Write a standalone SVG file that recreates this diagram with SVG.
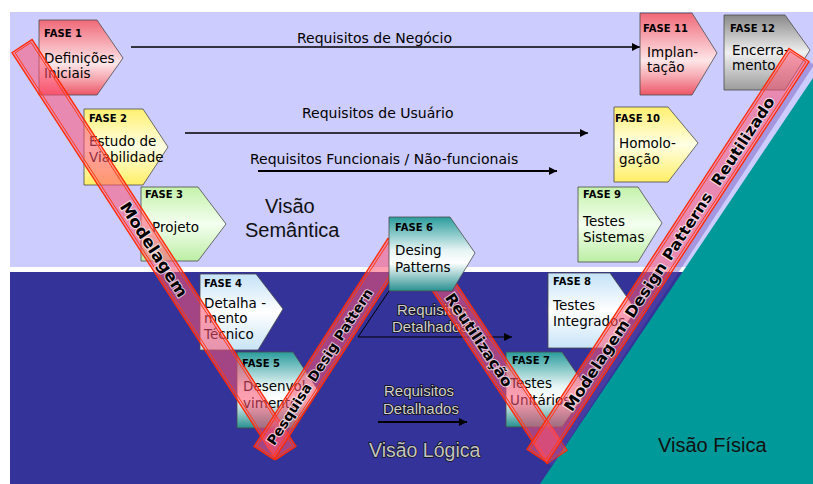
<svg xmlns="http://www.w3.org/2000/svg" width="813" height="484" viewBox="0 0 813 484">
<defs>
  <linearGradient id="gRed" x1="0" y1="0" x2="0" y2="1">
    <stop offset="0" stop-color="#f06878"/><stop offset="0.35" stop-color="#f8b4bc"/><stop offset="0.58" stop-color="#fde6e8"/><stop offset="0.78" stop-color="#f6a8b0"/><stop offset="1" stop-color="#ec5666"/>
  </linearGradient>
  <linearGradient id="gYel" x1="0" y1="0" x2="0" y2="1">
    <stop offset="0" stop-color="#fff070"/><stop offset="0.5" stop-color="#ffffe4"/><stop offset="1" stop-color="#ffee66"/>
  </linearGradient>
  <linearGradient id="gGrn" x1="0" y1="0" x2="0" y2="1">
    <stop offset="0" stop-color="#c4f2aa"/><stop offset="0.5" stop-color="#f4fff0"/><stop offset="1" stop-color="#bceea4"/>
  </linearGradient>
  <linearGradient id="gBlu" x1="0" y1="0" x2="0" y2="1">
    <stop offset="0" stop-color="#c4e2f8"/><stop offset="0.5" stop-color="#ffffff"/><stop offset="1" stop-color="#c8e4f8"/>
  </linearGradient>
  <linearGradient id="gTeal" x1="0" y1="0" x2="0" y2="1">
    <stop offset="0" stop-color="#2a9c9c"/><stop offset="0.45" stop-color="#e6f4f4"/><stop offset="0.62" stop-color="#ffffff"/><stop offset="1" stop-color="#289090"/>
  </linearGradient>
  <linearGradient id="gGray" x1="0" y1="0" x2="0" y2="1">
    <stop offset="0" stop-color="#888888"/><stop offset="0.5" stop-color="#f0f0f0"/><stop offset="1" stop-color="#9c9c9c"/>
  </linearGradient>
  <marker id="ah" viewBox="0 0 10 10" refX="10" refY="5" markerWidth="9" markerHeight="8" markerUnits="userSpaceOnUse" orient="auto">
    <path d="M0,0 L10,5 L0,10 z" fill="#000"/>
  </marker>
</defs>
<style>
  .node{stroke:#4a4a4a;stroke-width:0.8}
  .fase{font-family:"DejaVu Sans",sans-serif;font-weight:bold;font-size:10px;fill:#000}
  .nt{font-family:"DejaVu Sans",sans-serif;font-size:13.5px;fill:#000}
  .lbl{font-family:"DejaVu Sans",sans-serif;font-size:14px;fill:#000}
  .dlbl{font-family:"Liberation Sans",Arial,sans-serif;font-size:15px;fill:#d0d0d0;stroke:#111;stroke-width:1.6;paint-order:stroke}
  .band{fill:#ff5272;fill-opacity:0.55;stroke:#ff2a00;stroke-width:1.3}
  .bandin{fill:none;stroke:#ff3a10;stroke-width:0.9}
  .bt{font-family:"DejaVu Sans",sans-serif;font-weight:bold;fill:#000;stroke:#fff;stroke-width:2;stroke-opacity:0.7;paint-order:stroke;text-anchor:middle}
  .ln{stroke:#000;stroke-width:1.3;fill:none}
  .view{font-family:"Liberation Sans",Arial,sans-serif;font-size:20px}
</style>

<!-- background -->
<rect x="0" y="0" width="813" height="484" fill="#ffffff"/>
<rect x="10" y="12" width="803" height="255" fill="#ccccff"/>
<rect x="10" y="272" width="803" height="212" fill="#333399"/>
<polygon points="540,484 813,484 813,78" fill="#009999"/>

<!-- view labels -->
<g id="views">
  <text class="view" x="265" y="213" fill="#111">Visão</text>
  <text class="view" x="245" y="237" fill="#111">Semântica</text>
  <text class="view" x="369" y="457" style="font-size:19.5px" fill="#c4c4c4" stroke="#111" stroke-width="1.4" paint-order="stroke">Visão Lógica</text>
  <text class="view" x="658" y="452" fill="#111">Visão Física</text>
</g>

<!-- connectors -->
<g id="connectors">
  <line class="ln" x1="131" y1="47" x2="640" y2="47" marker-end="url(#ah)"/>
  <text class="lbl" x="297" y="43">Requisitos de Negócio</text>
  <line class="ln" x1="185" y1="133" x2="588" y2="133" marker-end="url(#ah)"/>
  <text class="lbl" x="302" y="118">Requisitos de Usuário</text>
  <line class="ln" style="stroke-width:2" x1="258" y1="171" x2="557" y2="171" marker-end="url(#ah)"/>
  <text class="lbl" x="250" y="164">Requisitos Funcionais / Não-funcionais</text>
  <polyline class="ln" style="stroke-width:1" points="389,291 358,337 512,337" marker-end="url(#ah)"/>
  <text class="dlbl" x="397" y="315">Requisitos</text>
  <text class="dlbl" x="392" y="332">Detalhados</text>
  <line class="ln" style="stroke-width:2" x1="378" y1="422" x2="467" y2="422" marker-end="url(#ah)"/>
  <text class="dlbl" x="384" y="396">Requisitos</text>
  <text class="dlbl" x="383" y="414">Detalhados</text>
</g>

<!-- nodes -->
<g id="fase1">
  <polygon class="node" points="39,20 97,20 123,58 97,95 39,95" fill="url(#gRed)"/>
  <text class="fase" x="44" y="37">FASE 1</text>
  <text class="nt" x="44" y="63">Definições</text>
  <text class="nt" x="44" y="78">Iniciais</text>
</g>
<g id="fase2">
  <polygon class="node" points="84,109 143,109 168,147 143,185 84,185" fill="url(#gYel)"/>
  <text class="fase" x="89" y="122">FASE 2</text>
  <text class="nt" x="89" y="146">Estudo de</text>
  <text class="nt" x="89" y="162">Viabilidade</text>
</g>
<g id="fase3">
  <polygon class="node" points="141,187 198,187 226,224 198,261 141,261" fill="url(#gGrn)"/>
  <text class="fase" x="145" y="198">FASE 3</text>
  <text class="nt" x="152" y="232">Projeto</text>
</g>
<g id="fase4">
  <polygon class="node" points="200,274 256,274 283,309 258,350 200,350" fill="url(#gBlu)"/>
  <text class="fase" x="204" y="287">FASE 4</text>
  <text class="nt" x="204" y="308">Detalha -</text>
  <text class="nt" x="204" y="323">mento</text>
  <text class="nt" x="204" y="339">Técnico</text>
</g>
<g id="fase5">
  <polygon class="node" points="237,352 293,352 318,390 293,428 237,428" fill="url(#gTeal)"/>
  <text class="fase" x="242" y="367">FASE 5</text>
  <text class="nt" x="243" y="391">Desenvol-</text>
  <text class="nt" x="243" y="408">vimento</text>
</g>
<g id="fase7">
  <polygon class="node" points="506,352 562,352 588,390 562,427 506,427" fill="url(#gTeal)"/>
  <text class="fase" x="512" y="364">FASE 7</text>
  <text class="nt" x="510" y="388">Testes</text>
  <text class="nt" x="510" y="405">Unitários</text>
</g>
<g id="fase8">
  <polygon class="node" points="548,273 610,273 636,310 610,348 548,348" fill="url(#gBlu)"/>
  <text class="fase" x="553" y="285">FASE 8</text>
  <text class="nt" x="553" y="310">Testes</text>
  <text class="nt" x="553" y="326">Integrados</text>
</g>
<g id="fase9">
  <polygon class="node" points="578,187 638,187 662,223 638,262 578,262" fill="url(#gGrn)"/>
  <text class="fase" x="583" y="198">FASE 9</text>
  <text class="nt" x="583" y="226">Testes</text>
  <text class="nt" x="583" y="242">Sistemas</text>
</g>
<g id="fase10">
  <polygon class="node" points="614,107 668,107 698,143 668,182 614,182" fill="url(#gYel)"/>
  <text class="fase" x="615" y="122">FASE 10</text>
  <text class="nt" x="619" y="148">Homolo-</text>
  <text class="nt" x="619" y="164">gação</text>
</g>
<g id="fase11">
  <polygon class="node" points="640,13 692,13 717,53 692,95 640,95" fill="url(#gRed)"/>
  <text class="fase" x="643" y="32">FASE 11</text>
  <text class="nt" x="647" y="57">Implan-</text>
  <text class="nt" x="647" y="72">tação</text>
</g>
<g id="fase12">
  <polygon class="node" points="724,15 785,15 810,50 785,90 724,90" fill="url(#gGray)"/>
  <text class="fase" x="730" y="32">FASE 12</text>
  <text class="nt" x="732" y="55">Encerra-</text>
  <text class="nt" x="732" y="70">mento</text>
</g>

<!-- bands -->
<g id="bands">
  <g transform="translate(154,249.5) rotate(57.03)">
    <rect class="band" x="-242.5" y="-12" width="485" height="24"/>
    <rect class="bandin" x="-240.5" y="-9.5" width="481" height="19"/>
    <text class="bt" x="0" y="5.8" style="font-size:16px" textLength="110" lengthAdjust="spacingAndGlyphs">Modelagem</text>
  </g>
  <g transform="translate(331,349) rotate(-57.2)">
    <rect class="band" x="-123.7" y="-12" width="247.4" height="24"/>
    <rect class="bandin" x="-121.7" y="-9.5" width="243.4" height="19"/>
    <text class="bt" x="-21" y="5" style="font-size:13.5px" textLength="183" lengthAdjust="spacingAndGlyphs">Pesquisa Desig Pattern</text>
  </g>
  <g transform="translate(497,366.5) rotate(56.45)">
    <rect class="band" x="-108.6" y="-12" width="217.2" height="24"/>
    <rect class="bandin" x="-106.6" y="-9.5" width="213.2" height="19"/>
    <text class="bt" x="-32" y="5.5" style="font-size:15px" textLength="109" lengthAdjust="spacingAndGlyphs">Reutilização</text>
  </g>
  <g transform="translate(668,255.5) rotate(-56.84)">
    <rect x="-239.5" y="12" width="479" height="6" fill="#6a48b0" fill-opacity="0.4"/>
    <rect class="band" x="-239.5" y="-12" width="479" height="24"/>
    <rect class="bandin" x="-237.5" y="-9.5" width="475" height="19"/>
    <text class="bt" x="2" y="5.5" style="font-size:15px;white-space:pre" textLength="372" lengthAdjust="spacingAndGlyphs">Modelagem Design Patterns  Reutilizado</text>
  </g>
</g>

<g id="fase6">
  <polygon class="node" points="389,217 450,217 475,253 452,291 389,291" fill="url(#gTeal)"/>
  <text class="fase" x="395" y="231">FASE 6</text>
  <text class="nt" x="395" y="255">Desing</text>
  <text class="nt" x="395" y="272">Patterns</text>
</g>
</svg>
